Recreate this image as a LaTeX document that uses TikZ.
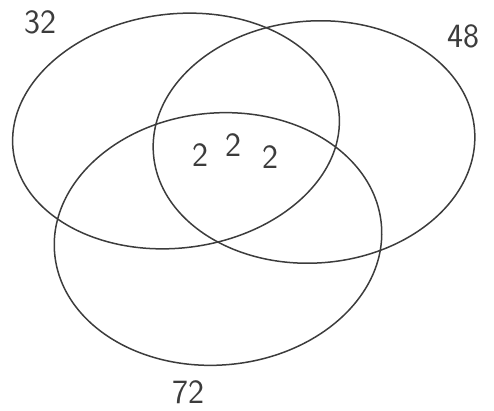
\documentclass[tikz,border=0pt]{standalone}
\definecolor{VennPen}{HTML}{3C3C3C}
\begin{document}
\begin{tikzpicture}[x=1pt,y=-1pt,
    setline/.style={VennPen,line width=1.5pt},
    count/.style={VennPen,font=\sffamily\fontsize{34}{36}\selectfont,inner sep=0pt}]
    \useasboundingbox (0,0) rectangle (494,411);
    \foreach \cx/\cy/\rx/\ry/\rot in {176/131/164/117/7,314/142/161/121/4,218/239/164/126/5}{
      \draw[setline] (\cx,\cy) ellipse[x radius=\rx,y radius=\ry,rotate=\rot];
    }
    \node[count] (nA) at (40,22) {32};
    \node[count] (nB) at (463,36) {48};
    \node[count] (nC) at (188,392) {72};
    \node[count] (mid1) at (200,155) {2};
    \node[count] (mid2) at (233,145) {2};
    \node[count] (mid3) at (270,157) {2};
  \end{tikzpicture}
\end{document}
